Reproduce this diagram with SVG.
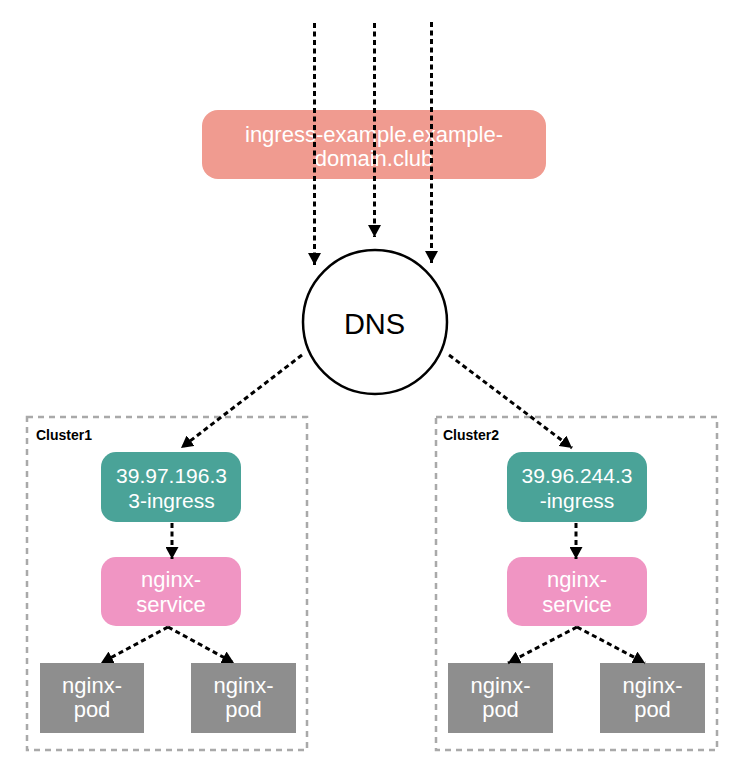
<svg xmlns="http://www.w3.org/2000/svg" width="733" height="780" viewBox="0 0 733 780">
<defs>
<style>
.t{font-family:"Liberation Sans",Arial,sans-serif;font-size:22px;fill:#fff;text-anchor:middle}
.n{font-size:21px}
.lbl{font-family:"Liberation Sans",Arial,sans-serif;font-size:14px;font-weight:bold;fill:#000}
.cl{fill:none;stroke:#a9a9a9;stroke-width:2.5;stroke-dasharray:6 5}
.c{fill:none;stroke:#000;stroke-width:3;stroke-dasharray:5 3.5;marker-end:url(#ah)}
</style>
<marker id="ah" markerUnits="userSpaceOnUse" markerWidth="13" markerHeight="13" refX="12" refY="6.5" orient="auto" viewBox="0 0 13 13">
<path d="M0,0 L12,6.5 L0,13 z" fill="#000"/>
</marker>
</defs>
<rect width="733" height="780" fill="#fff"/>
<g id="cluster1">
<rect class="cl" x="27" y="417" width="280" height="333"/>
<text class="lbl" x="36" y="440">Cluster1</text>
</g>
<g id="cluster2">
<rect class="cl" x="436" y="417" width="281" height="333"/>
<text class="lbl" x="443" y="440">Cluster2</text>
</g>
<g id="domain">
<rect x="202" y="110" width="344" height="69" rx="16" fill="#f09b90"/>
<text class="t" x="374" y="142">ingress-example.example-</text>
<text class="t" x="374" y="166">domain.club</text>
</g>
<g id="dns">
<circle cx="375" cy="322" r="72" fill="#fff" stroke="#000" stroke-width="2.5"/>
<text x="374.5" y="333.5" font-family="'Liberation Sans',Arial,sans-serif" font-size="29" text-anchor="middle" fill="#000">DNS</text>
</g>
<g id="ingress1">
<rect x="101" y="452" width="140" height="70" rx="15" fill="#4aa398"/>
<text class="t n" x="171.5" y="483">39.97.196.3</text>
<text class="t n" x="171.5" y="508">3-ingress</text>
</g>
<g id="service1">
<rect x="101" y="557" width="140" height="69" rx="15" fill="#f095c3"/>
<text class="t" x="171" y="587">nginx-</text>
<text class="t" x="171" y="612">service</text>
</g>
<g id="pod1a">
<rect x="40" y="663" width="104" height="70" fill="#8e8e8e"/>
<text class="t" x="92" y="693">nginx-</text>
<text class="t" x="92" y="717">pod</text>
</g>
<g id="pod1b">
<rect x="191" y="663" width="105" height="70" fill="#8e8e8e"/>
<text class="t" x="243.5" y="693">nginx-</text>
<text class="t" x="243.5" y="717">pod</text>
</g>
<g id="ingress2">
<rect x="507" y="452" width="140" height="70" rx="15" fill="#4aa398"/>
<text class="t n" x="577" y="483">39.96.244.3</text>
<text class="t n" x="577" y="508">-ingress</text>
</g>
<g id="service2">
<rect x="507" y="557" width="140" height="69" rx="15" fill="#f095c3"/>
<text class="t" x="577" y="587">nginx-</text>
<text class="t" x="577" y="612">service</text>
</g>
<g id="pod2a">
<rect x="448" y="663" width="105" height="70" fill="#8e8e8e"/>
<text class="t" x="500.5" y="693">nginx-</text>
<text class="t" x="500.5" y="717">pod</text>
</g>
<g id="pod2b">
<rect x="600" y="663" width="105" height="70" fill="#8e8e8e"/>
<text class="t" x="652.5" y="693">nginx-</text>
<text class="t" x="652.5" y="717">pod</text>
</g>
<g id="connectors">
<line class="c" x1="314.5" y1="23" x2="314.5" y2="265"/>
<line class="c" x1="374.5" y1="23" x2="374.5" y2="237"/>
<line class="c" x1="431.5" y1="22" x2="431.5" y2="263"/>
<line class="c" x1="302" y1="355" x2="181" y2="448"/>
<line class="c" x1="449" y1="355" x2="572" y2="448"/>
<line class="c" x1="172" y1="523" x2="172" y2="559"/>
<line class="c" x1="576" y1="523" x2="576" y2="559"/>
<line class="c" x1="168" y1="627" x2="101" y2="663"/>
<line class="c" x1="168" y1="627" x2="234" y2="663"/>
<line class="c" x1="577" y1="627" x2="508" y2="663"/>
<line class="c" x1="577" y1="627" x2="645" y2="663"/>
</g>
</svg>
